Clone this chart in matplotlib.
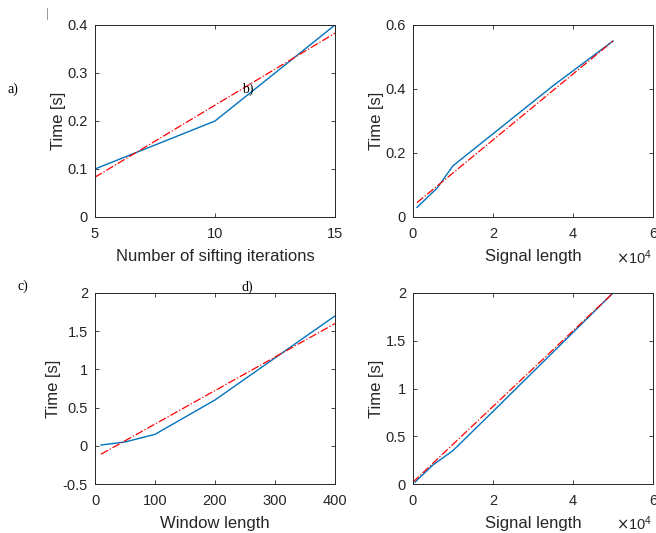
import numpy as np
import matplotlib
matplotlib.use('Agg')
from matplotlib import pyplot as plt
from matplotlib.lines import Line2D

plt.rcParams['font.family'] = ['Liberation Sans', 'DejaVu Sans']

# ---data----------------------------------------------
# a) sifting iterations
iters = [5, 10, 15]
t_iters = [0.10, 0.20, 0.40]
fit_iters_x = [5, 15]
fit_iters_y = [0.083, 0.383]

# b) signal length (top)
sig_b = [1000, 6000, 10000, 20000, 35000, 50000]
t_sig_b = [0.03, 0.09, 0.16, 0.26, 0.41, 0.55]
fit_b_x = [1000, 50000]
fit_b_y = [0.045, 0.55]

# c) window length
win = [10, 50, 100, 200, 300, 400]
t_win = [0.01, 0.05, 0.15, 0.60, 1.15, 1.70]
fit_win_x = [10, 400]
fit_win_y = [-0.11, 1.60]

# d) signal length (bottom)
sig_d = [500, 5000, 10000, 20000, 35000, 50000]
t_sig_d = [0.02, 0.20, 0.35, 0.76, 1.38, 2.00]
fit_d_x = [0, 50000]
fit_d_y = [0.02, 2.00]

blue = '#0072BD'
txt = '#262626'
tickfs = 10.5
labelfs = 12

fig = plt.figure(figsize=(6.56, 5.33), dpi=100, facecolor='w')
W, H = 656., 533.
def px_axes(l, t, r, b):
    return fig.add_axes([l/W, 1-b/H, (r-l)/W, (b-t)/H])

axa = px_axes(95, 25, 335, 217)
axb = px_axes(413, 25, 653, 217)
axc = px_axes(95, 293, 335, 484)
axd = px_axes(413, 293, 653, 484)

def style(ax, xlabel):
    ax.tick_params(direction='in', top=True, right=True, labelsize=tickfs,
                   colors=txt, length=3, width=0.6)
    ax.tick_params(axis='x', pad=7)
    ax.tick_params(axis='y', pad=5)
    for s in ax.spines.values():
        s.set_color('#262626')
        s.set_linewidth(0.7)
    ax.set_ylabel('Time [s]', fontsize=labelfs, color=txt, labelpad=1)
    ax.set_xlabel(xlabel, fontsize=labelfs, color=txt, labelpad=6)

# a)
axa.plot(iters, t_iters, color=blue, lw=1)
axa.plot(fit_iters_x, fit_iters_y, 'r-.', lw=0.9)
axa.set_xlim(5, 15); axa.set_ylim(0, 0.4)
axa.set_xticks([5, 10, 15]); axa.set_yticks([0, 0.1, 0.2, 0.3, 0.4])
axa.set_yticklabels(['0', '0.1', '0.2', '0.3', '0.4'])
style(axa, 'Number of sifting iterations')

# b)
axb.plot(sig_b, t_sig_b, color=blue, lw=1)
axb.plot(fit_b_x, fit_b_y, 'r-.', lw=0.9)
axb.set_xlim(0, 60000); axb.set_ylim(0, 0.6)
axb.set_xticks([0, 20000, 40000, 60000]); axb.set_xticklabels(['0', '2', '4', '6'])
axb.set_yticks([0, 0.2, 0.4, 0.6]); axb.set_yticklabels(['0', '0.2', '0.4', '0.6'])
style(axb, 'Signal length')

# c)
axc.plot(win, t_win, color=blue, lw=1)
axc.plot(fit_win_x, fit_win_y, 'r-.', lw=0.9)
axc.set_xlim(0, 400); axc.set_ylim(-0.5, 2)
axc.set_xticks([0, 100, 200, 300, 400])
axc.set_yticks([-0.5, 0, 0.5, 1, 1.5, 2])
axc.set_yticklabels(['-0.5', '0', '0.5', '1', '1.5', '2'])
style(axc, 'Window length')

# d)
axd.plot(sig_d, t_sig_d, color=blue, lw=1)
axd.plot(fit_d_x, fit_d_y, 'r-.', lw=0.9)
axd.set_xlim(0, 60000); axd.set_ylim(0, 2)
axd.set_xticks([0, 20000, 40000, 60000]); axd.set_xticklabels(['0', '2', '4', '6'])
axd.set_yticks([0, 0.5, 1, 1.5, 2]); axd.set_yticklabels(['0', '0.5', '1', '1.5', '2'])
style(axd, 'Signal length')

# x10^4 multipliers
for ax in (axb, axd):
    ax.text(0.995, -0.21, r'$\times\mathregular{10^4}$', transform=ax.transAxes,
            ha='right', va='center', fontsize=10.5, color=txt)

# panel letters
for s, x, y in [('a)', 7, 89), ('b)', 242, 89), ('c)', 17, 286), ('d)', 242, 287)]:
    fig.text(x/W, 1-y/H, s, fontsize=10, family='Liberation Serif',
             ha='left', va='center')

# stray mark at top left of the original page
fig.add_artist(Line2D([47/W, 47/W], [1-8/H, 1-19/H], color='#888888', lw=0.6))

fig.savefig('out.png', dpi=100)
